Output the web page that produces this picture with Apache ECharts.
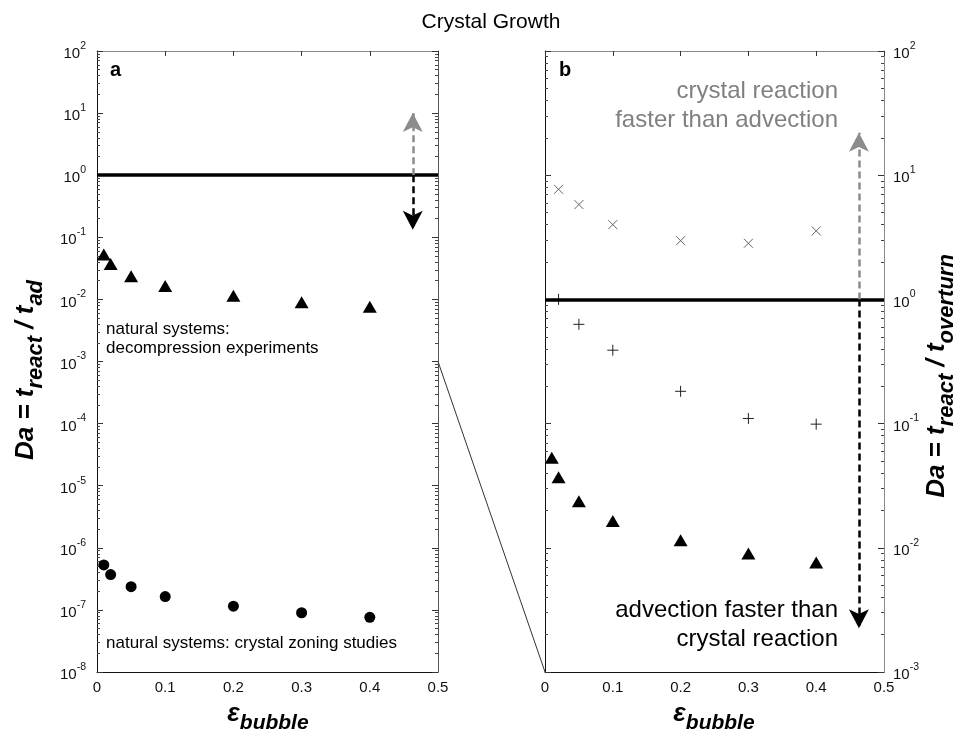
<!DOCTYPE html>
<html>
<head>
<meta charset="utf-8">
<title>Crystal Growth</title>
<script src="https://cdn.jsdelivr.net/npm/echarts@6/dist/echarts.min.js"></script>
<style>
  html, body { margin: 0; padding: 0; background: #fff; }
  #chart { width: 962px; height: 739px; }
</style>
</head>
<body>
<div id="chart"></div>
<script>
// ---- data ----
const epsAll = [0.01, 0.02, 0.05, 0.1, 0.2, 0.3, 0.4];

// panel a: Da = t_react / t_ad
const decompressionDa = [0.053, 0.037, 0.0237, 0.0164, 0.0115, 0.009, 0.0076];
const zoningDa = [5.3e-7, 3.7e-7, 2.37e-7, 1.64e-7, 1.15e-7, 9.0e-8, 7.6e-8];

// panel b: Da = t_react / t_overturn
const crossEps = [0.02, 0.05, 0.1, 0.2, 0.3, 0.4];
const crossDa = [7.7, 5.8, 4.0, 2.97, 2.83, 3.56];
const plusEps = [0.02, 0.05, 0.1, 0.2, 0.3, 0.4];
const plusDa = [1.0, 0.63, 0.39, 0.182, 0.11, 0.099];
const triangleBDa = [0.053, 0.037, 0.0237, 0.0164, 0.0115, 0.009, 0.0076];

// reference level and direction arrows (from, to) at a fixed bubble fraction
const daThreshold = 1;
const arrowX = 0.463;
const arrowA = { up: [1, 10], down: [1, 0.132] };
const arrowB = { up: [1, 22], down: [1, 0.00225] };

// axis ranges / ticks
const expA = [-8, -7, -6, -5, -4, -3, -2, -1, 0, 1, 2];
const expB = [-3, -2, -1, 0, 1, 2];
const zoomLevel = 1e-3;

// ---- helpers ----
const FONT = '"Liberation Sans", Arial, Helvetica, sans-serif';
const decades = exps => exps.map(e => Math.pow(10, e));
const minors = exps => {
  const out = [];
  for (let i = 0; i < exps.length - 1; i++) {
    for (let m = 2; m <= 9; m++) out.push(m * Math.pow(10, exps[i]));
  }
  return out;
};
const pairs = (xs, ys) => xs.map((x, i) => [x, ys[i]]);

const grids = [
  { left: 97, top: 51, width: 341, height: 621 },
  { left: 545, top: 51, width: 339, height: 621 }
];

function xAxes(gridIndex, frameColor) {
  return [
    {
      gridIndex, type: 'value', position: 'bottom', min: 0, max: 0.5, interval: 0.1,
      axisLine: { show: true, onZero: false, lineStyle: { color: '#111', width: 1 } },
      axisTick: { show: false },
      splitLine: { show: false },
      axisLabel: {
        color: '#111', fontSize: 15, fontFamily: FONT, margin: 8,
        formatter: v => (v === 0 ? '0' : String(Math.round(v * 10) / 10))
      }
    },
    {
      gridIndex, type: 'value', position: 'top', min: 0, max: 0.5, interval: 0.1,
      axisLine: { show: true, onZero: false, lineStyle: { color: frameColor, width: 1 } },
      axisTick: { show: true, inside: true, length: 5, lineStyle: { color: '#333' } },
      splitLine: { show: false },
      axisLabel: { show: false }
    }
  ];
}

function logY(gridIndex, exps, position, opts) {
  const min = Math.pow(10, exps[0]);
  const max = Math.pow(10, exps[exps.length - 1]);
  const base = {
    gridIndex, type: 'log', logBase: 10, min, max, position,
    splitLine: { show: false }, minorTick: { show: false }
  };
  const major = Object.assign({}, base, {
    axisLine: { show: true, onZero: false, lineStyle: { color: opts.lineColor, width: 1 } },
    axisTick: { show: true, inside: true, length: 6, customValues: decades(exps),
                lineStyle: { color: '#333' } },
    axisLabel: opts.labels ? {
      show: true, customValues: decades(exps), margin: opts.margin,
      fontFamily: FONT, color: '#111',
      formatter: v => '{b|10}{e|' + Math.round(Math.log10(v)) + '}',
      rich: {
        b: { fontSize: 15, fontFamily: FONT, color: '#111', lineHeight: 21, verticalAlign: 'bottom' },
        e: { fontSize: 10.5, fontFamily: FONT, color: '#111', lineHeight: 12, verticalAlign: 'top' }
      }
    } : { show: false }
  });
  const minor = Object.assign({}, base, {
    axisLine: { show: false, onZero: false },
    axisTick: { show: true, inside: true, length: 3, customValues: minors(exps),
                lineStyle: { color: '#444' } },
    axisLabel: { show: false }
  });
  return [major, minor];
}

const xAxis = [].concat(xAxes(0, '#8a8a8a'), xAxes(1, '#8a8a8a'));
// y axes: 0-3 panel a (left major/minor, right major/minor), 4-7 panel b
const yAxis = [].concat(
  logY(0, expA, 'left', { lineColor: '#111', labels: true, margin: 11 }),
  logY(0, expA, 'right', { lineColor: '#555', labels: false }),
  logY(1, expB, 'left', { lineColor: '#111', labels: false }),
  logY(1, expB, 'right', { lineColor: '#8a8a8a', labels: true, margin: 9 })
);

const thresholdLine = {
  silent: true, symbol: 'none', animation: false,
  label: { show: false },
  lineStyle: { color: '#000', width: 3.5, type: 'solid', opacity: 1 },
  data: [{ yAxis: daThreshold }]
};

function arrowLines(range) {
  return {
    silent: true, animation: false, label: { show: false },
    symbol: ['none', 'arrow'], symbolSize: [15, 19],
    data: [
      [
        { coord: [arrowX, range.up[0]],
          lineStyle: { color: '#8c8c8c', width: 2.5, type: [7, 4], opacity: 1 },
          itemStyle: { color: '#8c8c8c' } },
        { coord: [arrowX, range.up[1]] }
      ],
      [
        { coord: [arrowX, range.down[0]],
          lineStyle: { color: '#000', width: 2.5, type: [7, 4], opacity: 1 },
          itemStyle: { color: '#000' } },
        { coord: [arrowX, range.down[1]] }
      ]
    ]
  };
}

const crossPath = 'path://M0,0L10,10M10,0L0,10';
const plusPath = 'path://M5,0L5,10M0,5L10,5';
const solid = { color: '#000', opacity: 1 };

const series = [
  // panel a
  {
    type: 'scatter', xAxisIndex: 0, yAxisIndex: 0, symbol: 'triangle', symbolSize: [14, 12],
    itemStyle: solid, data: pairs(epsAll, decompressionDa),
    markLine: thresholdLine
  },
  {
    type: 'scatter', xAxisIndex: 0, yAxisIndex: 0, symbol: 'circle', symbolSize: 11,
    itemStyle: solid, data: pairs(epsAll, zoningDa),
    markLine: arrowLines(arrowA)
  },
  // panel b
  {
    type: 'scatter', xAxisIndex: 2, yAxisIndex: 6, symbol: crossPath, symbolSize: 9,
    itemStyle: { color: 'transparent', borderColor: '#666', borderWidth: 1, opacity: 1 },
    data: pairs(crossEps, crossDa),
    markLine: thresholdLine
  },
  {
    type: 'scatter', xAxisIndex: 2, yAxisIndex: 6, symbol: plusPath, symbolSize: 11,
    itemStyle: { color: 'transparent', borderColor: '#222', borderWidth: 1, opacity: 1 },
    data: pairs(plusEps, plusDa)
  },
  {
    type: 'scatter', xAxisIndex: 2, yAxisIndex: 6, symbol: 'triangle', symbolSize: [14, 12],
    itemStyle: solid, data: pairs(epsAll, triangleBDa),
    markLine: arrowLines(arrowB)
  }
];

function richLabel(parts, main, sub) {
  return {
    text: parts,
    rich: {
      m: { fontSize: main, fontWeight: 'bold', fontStyle: 'italic', fontFamily: FONT,
           color: '#000', lineHeight: main + 4, verticalAlign: 'top' },
      s: { fontSize: sub, fontWeight: 'bold', fontStyle: 'italic', fontFamily: FONT,
           color: '#000', lineHeight: sub + 1, padding: [12, 0, 0, 0], verticalAlign: 'top' }
    },
    align: 'center', verticalAlign: 'middle',
    textAlign: 'center', textVerticalAlign: 'middle'
  };
}

function plainText(id, x, y, text, size, opts) {
  opts = opts || {};
  return {
    type: 'text', id, x, y, silent: true,
    style: {
      text, fontSize: size, fontFamily: FONT, fill: opts.color || '#000',
      fontWeight: opts.bold ? 'bold' : 'normal',
      align: opts.align || 'left', verticalAlign: 'middle',
      textAlign: opts.align || 'left', textVerticalAlign: 'middle',
      lineHeight: opts.lineHeight || size + 4
    }
  };
}

const graphic = [
  plainText('title', 491, 22, 'Crystal Growth', 21, { align: 'center' }),
  plainText('tagA', 110, 70, 'a', 20, { bold: true }),
  plainText('tagB', 559, 70, 'b', 20, { bold: true }),
  plainText('noteDecomp', 106, 339, 'natural systems:\ndecompression experiments', 17, { lineHeight: 19 }),
  plainText('noteZoning', 106, 643, 'natural systems: crystal zoning studies', 17),
  plainText('noteFast', 838, 106, 'crystal reaction\nfaster than advection', 24,
            { align: 'right', color: '#808080', lineHeight: 29 }),
  plainText('noteSlow', 838, 625, 'advection faster than\ncrystal reaction', 24,
            { align: 'right', lineHeight: 29 }),
  {
    type: 'text', id: 'yNameA', x: 28, y: 370, rotation: Math.PI / 2, silent: true,
    style: richLabel('{m|Da = t}{s|react}{m| / t}{s|ad}', 26, 22)
  },
  {
    type: 'text', id: 'yNameB', x: 939, y: 376, rotation: Math.PI / 2, silent: true,
    style: richLabel('{m|Da = t}{s|react}{m| / t}{s|overturn}', 26, 22)
  },
  {
    type: 'text', id: 'xNameA', x: 268, y: 716, silent: true,
    style: richLabel('{m|\u03b5}{s|bubble}', 26, 21)
  },
  {
    type: 'text', id: 'xNameB', x: 714, y: 716, silent: true,
    style: richLabel('{m|\u03b5}{s|bubble}', 26, 21)
  }
];

const chart = echarts.init(document.getElementById('chart'), null, { renderer: 'canvas' });
chart.setOption({
  animation: false,
  backgroundColor: '#fff',
  textStyle: { fontFamily: FONT },
  grid: grids,
  xAxis,
  yAxis,
  series,
  graphic
});

// thin connector: panel a at (0.5, 1e-3) to panel b at (0, 1e-3)
const pA = chart.convertToPixel({ xAxisIndex: 0, yAxisIndex: 0 }, [0.5, zoomLevel]);
const pB = chart.convertToPixel({ xAxisIndex: 2, yAxisIndex: 6 }, [0, zoomLevel]);
chart.setOption({
  graphic: [{
    type: 'line', id: 'connector', silent: true, z: 1,
    shape: { x1: pA[0], y1: pA[1], x2: pB[0], y2: pB[1] },
    style: { stroke: '#333', lineWidth: 1 }
  }]
});
</script>
</body>
</html>
